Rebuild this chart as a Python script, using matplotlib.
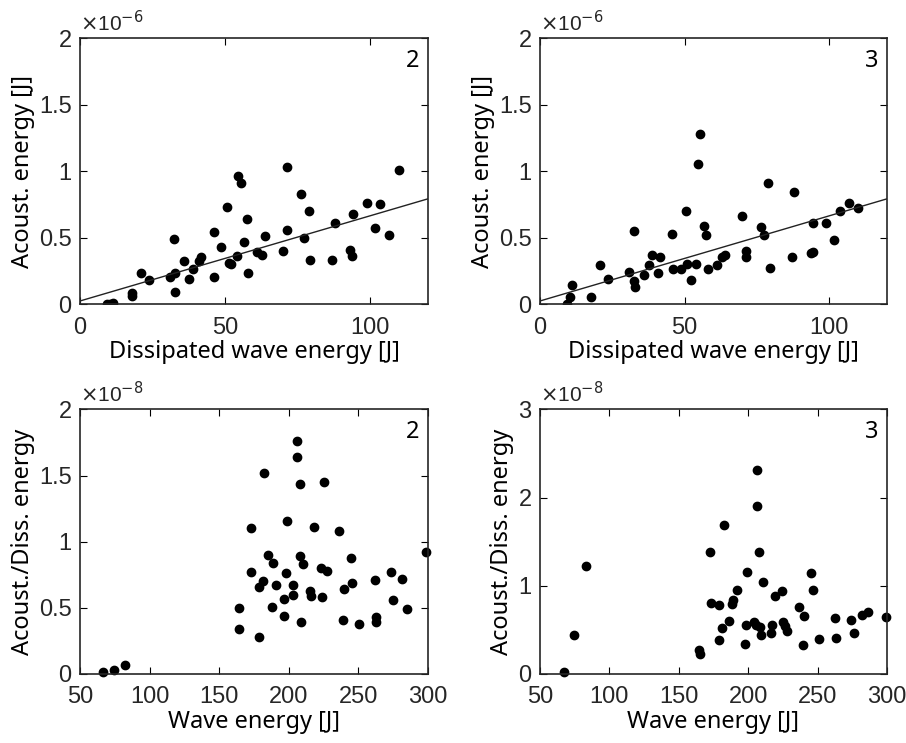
import matplotlib
matplotlib.use("Agg")
import matplotlib.pyplot as plt
import numpy as np

# dissipated wave energy [J] vs acoustic energy [1e-6 J], case 2
diss2 = [9.4, 10.3, 11.5, 17.8, 17.8, 20.9, 23.7, 31.0, 32.4, 32.6, 32.9, 35.9, 37.7, 38.9,
         41.1, 41.7, 46.1, 46.3, 48.5, 50.6, 51.3, 52.2, 54.0, 54.5, 55.4, 56.7, 57.5, 57.9,
         61.1, 62.8, 63.9, 69.9, 71.3, 71.3, 76.4, 77.2, 79.0, 79.3, 87.0, 87.8, 93.1, 93.8,
         94.3, 98.9, 101.6, 103.4, 106.6, 109.9]
acou2 = [0.0, 0.0, 0.005, 0.085, 0.06, 0.23, 0.18, 0.20, 0.49, 0.23, 0.09, 0.32, 0.19, 0.26,
         0.32, 0.35, 0.54, 0.20, 0.43, 0.73, 0.31, 0.30, 0.36, 0.96, 0.91, 0.47, 0.64, 0.23,
         0.39, 0.37, 0.51, 0.40, 1.03, 0.56, 0.83, 0.50, 0.70, 0.33, 0.33, 0.61, 0.41, 0.36,
         0.68, 0.76, 0.57, 0.75, 0.52, 1.01]

# case 3
diss3 = [9.4, 10.3, 11.1, 17.7, 20.7, 23.4, 30.8, 32.4, 32.4, 32.9, 35.9, 37.7, 38.7, 40.9,
         41.6, 45.7, 46.0, 48.6, 50.5, 50.9, 52.1, 53.8, 54.7, 55.3, 56.8, 57.4, 58.0, 61.1,
         63.0, 64.1, 70.0, 71.4, 71.4, 76.6, 77.4, 78.7, 79.4, 87.1, 87.7, 93.6, 94.3, 94.4,
         99.0, 101.8, 103.7, 106.8, 110.1]
acou3 = [0.0, 0.05, 0.14, 0.05, 0.29, 0.19, 0.24, 0.55, 0.17, 0.125, 0.22, 0.29, 0.37, 0.23,
         0.35, 0.53, 0.26, 0.26, 0.70, 0.30, 0.18, 0.30, 1.05, 1.28, 0.59, 0.52, 0.26, 0.29,
         0.35, 0.37, 0.66, 0.40, 0.35, 0.58, 0.52, 0.91, 0.27, 0.35, 0.84, 0.38, 0.39, 0.61,
         0.61, 0.48, 0.70, 0.76, 0.72]

# fitted line (same for both)
fit_intercept = 0.023
fit_slope = 0.0064

# wave energy [J] vs ratio [1e-8], case 2
wave2 = [66.4, 74.1, 82.0, 164.2, 163.9, 172.6, 173.1, 178.6, 178.9, 181.3, 182.0, 185.1,
         187.8, 188.7, 190.7, 196.4, 196.4, 197.9, 199.1, 203.4, 203.4, 206.1, 206.1, 208.0,
         208.0, 208.7, 210.2, 215.5, 216.2, 218.1, 223.4, 223.7, 225.1, 227.5, 236.2, 239.1,
         239.6, 244.4, 245.8, 250.6, 261.7, 262.4, 262.4, 273.5, 274.7, 281.2, 285.3, 298.8]
ratio2 = [0.015, 0.028, 0.066, 0.50, 0.34, 1.10, 0.77, 0.66, 0.28, 0.70, 1.52, 0.90,
          0.51, 0.84, 0.67, 0.44, 0.57, 0.76, 1.16, 0.67, 0.60, 1.76, 1.64, 1.44,
          0.89, 0.39, 0.83, 0.63, 0.59, 1.11, 0.80, 0.58, 1.45, 0.78, 1.08, 0.41,
          0.64, 0.88, 0.69, 0.38, 0.71, 0.43, 0.39, 0.77, 0.56, 0.72, 0.49, 0.92]

# case 3
wave3 = [67.1, 74.8, 82.8, 164.9, 165.1, 172.8, 173.5, 179.1, 179.1, 181.5, 182.7, 186.3,
         188.5, 189.2, 191.8, 197.4, 198.3, 199.3, 204.1, 205.8, 206.1, 206.1, 208.0, 208.7,
         209.0, 210.6, 216.4, 217.3, 219.0, 224.3, 224.9, 226.8, 228.2, 236.9, 240.0, 239.8,
         245.6, 246.5, 251.3, 262.4, 263.4, 274.0, 275.9, 281.7, 286.5, 299.5]
ratio3 = [0.02, 0.445, 1.23, 0.275, 0.23, 1.38, 0.81, 0.78, 0.38, 0.52, 1.69, 0.60,
          0.79, 0.84, 0.955, 0.34, 0.555, 1.155, 0.585, 0.555, 2.31, 1.91, 1.385, 0.53,
          0.44, 1.04, 0.46, 0.56, 0.89, 0.94, 0.585, 0.54, 0.49, 0.76, 0.66, 0.325,
          1.14, 0.95, 0.40, 0.63, 0.41, 0.61, 0.46, 0.665, 0.705, 0.65]

tick_font = 'Liberation Sans'
label_font = 'Noto Sans'

fig = plt.figure(figsize=(9.06, 7.43), dpi=100)
pos = [[0.0883, 0.5908, 0.384, 0.358], [0.596, 0.5908, 0.383, 0.358],
       [0.0883, 0.0929, 0.384, 0.356], [0.596, 0.0929, 0.383, 0.356]]
axes = [fig.add_axes(p) for p in pos]


def style(ax, xlim, ylim, xticks, yticks, ytl, exp, tag, xlabel, ylabel):
    ax.set_xlim(xlim)
    ax.set_ylim(ylim)
    ax.set_xticks(xticks)
    ax.set_yticks(yticks)
    ax.set_xticklabels([str(t) for t in xticks], fontfamily=tick_font, fontsize=17, color='#262626')
    ax.set_yticklabels(ytl, fontfamily=tick_font, fontsize=17, color='#262626')
    ax.tick_params(axis='x', direction='in', top=True, length=5, width=0.8, pad=9)
    ax.tick_params(axis='y', direction='in', right=True, length=5, width=0.8, pad=6)
    for s in ax.spines.values():
        s.set_linewidth(1.2)
        s.set_color('#262626')
    ax.set_xlabel(xlabel, fontfamily=label_font, fontsize=17, labelpad=1)
    ax.set_ylabel(ylabel, fontfamily=label_font, fontsize=17, labelpad=3)
    ax.text(0.0, 1.012, r'$\times$10$^{%d}$' % exp, transform=ax.transAxes,
            fontfamily=tick_font, fontsize=15, color='#262626', va='bottom', ha='left')
    ax.text(0.975, 0.96, tag, transform=ax.transAxes, fontfamily=label_font,
            fontsize=17, fontweight='bold', ha='right', va='top')


xl = np.array([0, 120])
for ax, d, a, tag in [(axes[0], diss2, acou2, '2'), (axes[1], diss3, acou3, '3')]:
    ax.plot(d, a, 'o', color='black', markersize=6)
    ax.plot(xl, fit_intercept + fit_slope * xl, color='#222222', linewidth=1.0)
    style(ax, (0, 120), (0, 2), [0, 50, 100], [0, 0.5, 1, 1.5, 2],
          ['0', '0.5', '1', '1.5', '2'], -6, tag,
          'Dissipated wave energy [J]', 'Acoust. energy [J]')

axes[2].plot(wave2, ratio2, 'o', color='black', markersize=6, clip_on=False)
style(axes[2], (50, 300), (0, 2), [50, 100, 150, 200, 250, 300], [0, 0.5, 1, 1.5, 2],
      ['0', '0.5', '1', '1.5', '2'], -8, '2', 'Wave energy [J]', 'Acoust./Diss. energy')

axes[3].plot(wave3, ratio3, 'o', color='black', markersize=6, clip_on=False)
style(axes[3], (50, 300), (0, 3), [50, 100, 150, 200, 250, 300], [0, 1, 2, 3],
      ['0', '1', '2', '3'], -8, '3', 'Wave energy [J]', 'Acoust./Diss. energy')

fig.savefig('out.png', dpi=100)
